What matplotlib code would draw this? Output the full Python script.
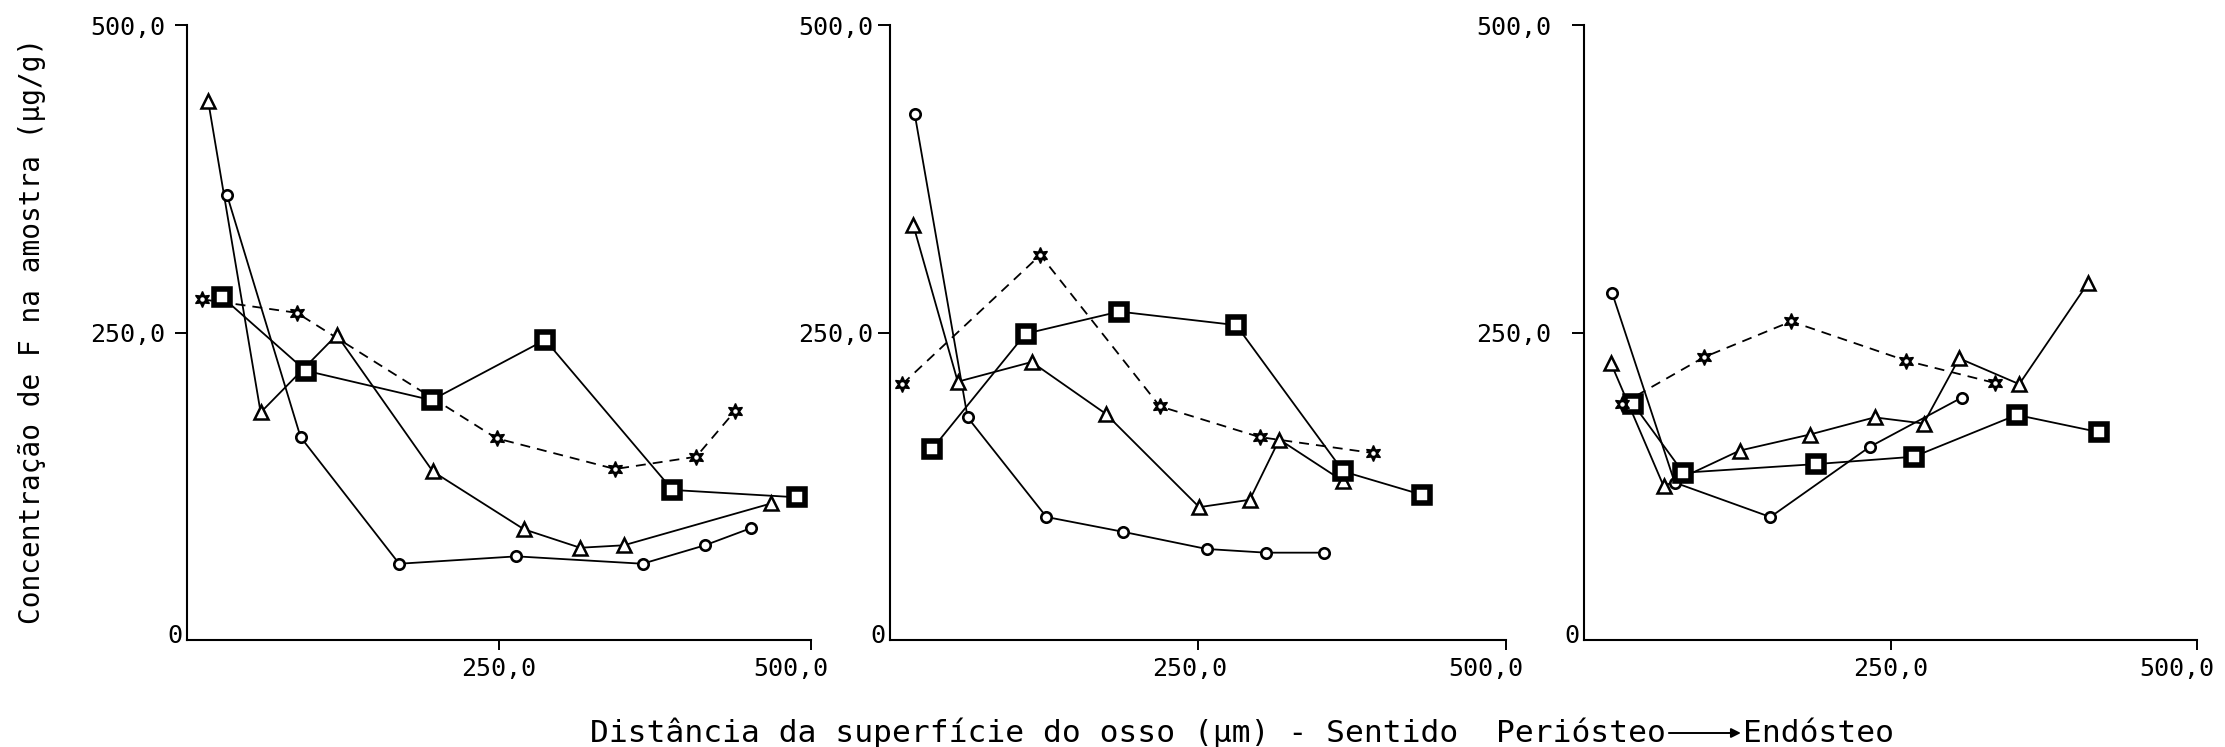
import matplotlib
matplotlib.use('Agg')
import matplotlib.pyplot as plt
from matplotlib.transforms import ScaledTranslation

plt.rcParams['font.family'] = ['DejaVu Sans Mono', 'DejaVu Sans']

# painel 1
a_circ_x = [32, 91, 170, 264, 365, 415, 452]
a_circ_y = [362, 165, 62, 68, 62, 77, 91]
a_tri_x = [17, 59, 120, 197, 270, 315, 350, 468]
a_tri_y = [438, 185, 248, 137, 90, 75, 77, 111]
a_sq_x = [28, 95, 196, 287, 389, 489]
a_sq_y = [279, 219, 195, 244, 122, 116]
a_star_x = [12, 88, 248, 343, 408, 439]
a_star_y = [277, 266, 164, 139, 149, 186]

# painel 2
b_circ_x = [20, 63, 127, 189, 257, 305, 352]
b_circ_y = [428, 181, 100, 88, 74, 71, 71]
b_tri_x = [19, 55, 115, 175, 251, 292, 316, 368]
b_tri_y = [337, 210, 226, 184, 108, 114, 163, 129]
b_sq_x = [34, 110, 186, 281, 368, 432]
b_sq_y = [155, 249, 267, 256, 137, 118]
b_star_x = [10, 122, 219, 300, 392]
b_star_y = [208, 313, 190, 165, 152]

# painel 3
c_circ_x = [23, 74, 152, 233, 308]
c_circ_y = [282, 128, 100, 157, 197]
c_tri_x = [22, 65, 127, 184, 237, 277, 306, 355, 411]
c_tri_y = [225, 125, 154, 167, 181, 176, 229, 208, 290]
c_sq_x = [40, 81, 189, 269, 353, 420]
c_sq_y = [192, 136, 143, 149, 183, 169]
c_star_x = [31, 98, 169, 263, 335]
c_star_y = [192, 230, 259, 227, 209]

xticks = [250, 500]
xticklabels = ['250,0', '500,0']
yticks = [250, 500]
yticklabels = ['250,0', '500,0']

panels = [
    (a_circ_x, a_circ_y, a_tri_x, a_tri_y, a_sq_x, a_sq_y, a_star_x, a_star_y),
    (b_circ_x, b_circ_y, b_tri_x, b_tri_y, b_sq_x, b_sq_y, b_star_x, b_star_y),
    (c_circ_x, c_circ_y, c_tri_x, c_tri_y, c_sq_x, c_sq_y, c_star_x, c_star_y),
]

W, H = 2225, 747
fig = plt.figure(figsize=(W / 100, H / 100), dpi=100)

# left, right end of each x axis (pixels)
rects = [(187, 811), (890, 1506), (1584, 2197)]
y_bot, y_top = 640, 25
ypads = [7, 3.5, 15]
# horizontal shift of the x tick labels (pixels)
xlab_shift = [(0, -20), (-8, -20), (0, -20)]

lw = 1.3
for i, (cx, cy, tx, ty, sx, sy, stx, sty) in enumerate(panels):
    x0, x1 = rects[i]
    ax = fig.add_axes([x0 / W, 1 - y_bot / H, (x1 - x0) / W, (y_bot - y_top) / H])
    ax.set_xlim(0, 500)
    ax.set_ylim(0, 500)
    for s in ['top', 'right']:
        ax.spines[s].set_visible(False)
    for s in ['left', 'bottom']:
        ax.spines[s].set_linewidth(1.5)

    # lines
    ax.plot(cx, cy, '-', color='black', lw=lw, zorder=2, clip_on=False)
    ax.plot(tx, ty, '-', color='black', lw=lw, zorder=2, clip_on=False)
    ax.plot(sx, sy, '-', color='black', lw=lw, zorder=2, clip_on=False)
    ax.plot(stx, sty, color='black', lw=lw, ls=(0, (5.5, 3.9)), zorder=2, clip_on=False)

    # markers
    ax.plot(cx, cy, 'o', ms=7.5, mfc='white', mec='black', mew=1.9, zorder=4, clip_on=False)
    ax.plot(tx, ty, '^', ms=10, mfc='white', mec='black', mew=1.8, zorder=4, clip_on=False)
    ax.plot(sx, sy, 's', ms=11, mfc='white', mec='black', mew=4, zorder=4, clip_on=False)
    ax.plot(stx, sty, marker=(6, 1, 0), ls='none', ms=11.5, color='black', zorder=4, clip_on=False)
    ax.plot(stx, sty, 'o', ms=2.2, mfc='white', mec='white', zorder=5, clip_on=False)

    ax.set_xticks(xticks)
    ax.set_xticklabels(xticklabels)
    ax.set_yticks(yticks)
    ax.set_yticklabels(yticklabels)
    ax.tick_params(axis='x', length=7, width=1.4, pad=5, labelsize=18)
    ax.tick_params(axis='y', length=8.5, width=1.4, pad=ypads[i], labelsize=18)
    for lab, dx in zip(ax.get_xticklabels(), xlab_shift[i]):
        lab.set_transform(lab.get_transform() + ScaledTranslation(dx / 100, 0, fig.dpi_scale_trans))
    ax.annotate('0', (0, 0), xytext=(-3.5, 3), textcoords='offset points',
                ha='right', va='center', fontsize=18, annotation_clip=False)

fig.text(32 / W, 1 - 331 / H, 'Concentração de F na amostra (µg/g)',
         rotation=90, ha='center', va='center', fontsize=20)

xl = fig.text(590 / W, 1 - 733 / H,
              'Distância da superfície do osso (µm) - Sentido  Periósteo',
              ha='left', va='center', fontsize=22.5)
fig.canvas.draw()
bb = xl.get_window_extent()
yc = (bb.y0 + bb.y1) / 2
ax.annotate('', xy=(bb.x1 + 75, yc), xytext=(bb.x1 + 3, yc), xycoords='figure pixels',
            textcoords='figure pixels', annotation_clip=False,
            arrowprops=dict(arrowstyle='-|>', lw=1.4, color='black', mutation_scale=14,
                            shrinkA=0, shrinkB=0))
fig.text((bb.x1 + 77) / W, 1 - 733 / H, 'Endósteo', ha='left', va='center', fontsize=22.5)

fig.savefig('out.png', dpi=100)
